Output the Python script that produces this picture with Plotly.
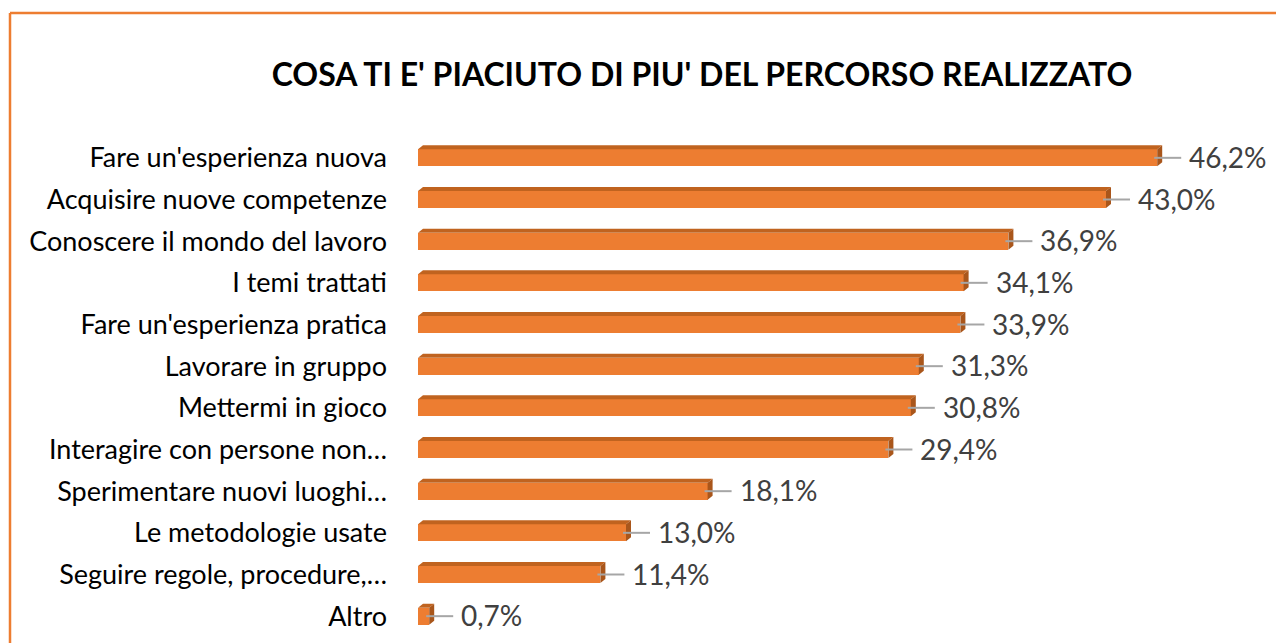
import plotly.graph_objects as go

categories = [
    "Fare un'esperienza nuova",
    "Acquisire nuove competenze",
    "Conoscere il mondo del lavoro",
    "I temi trattati",
    "Fare un'esperienza pratica",
    "Lavorare in gruppo",
    "Mettermi in gioco",
    "Interagire con persone non…",
    "Sperimentare nuovi luoghi…",
    "Le metodologie usate",
    "Seguire regole, procedure,…",
    "Altro",
]
values = [46.2, 43.0, 36.9, 34.1, 33.9, 31.3, 30.8, 29.4, 18.1, 13.0, 11.4, 0.7]
value_labels = ["46,2%", "43,0%", "36,9%", "34,1%", "33,9%", "31,3%", "30,8%",
                "29,4%", "18,1%", "13,0%", "11,4%", "0,7%"]

OFF = 8  # page body margin
W, H = 1284 - OFF, 643 - OFF
ML, MR, MT, MB = 418 - OFF, 18, 137 - OFF, 14 - OFF
XMAX = 53.0
plot_w = W - ML - MR
plot_h = H - MT - MB
n = len(categories)
px_per_x = plot_w / XMAX
px_per_y = plot_h / n

FRONT = "#ED7D31"
TOP = "#C0631F"
SIDE = "#A9561B"

bar_h = 17 / px_per_y
dx = 5 / px_per_x
dy = 4 / px_per_y

ys = list(range(n))

fig = go.Figure()

fig.add_trace(go.Bar(
    x=values, y=ys, orientation="h", width=bar_h,
    marker=dict(color=FRONT, line=dict(width=0)),
    hoverinfo="skip", showlegend=False,
))

for i, v in enumerate(values):
    yt = i - bar_h / 2
    yb = i + bar_h / 2
    fig.add_trace(go.Scatter(
        x=[0, dx, v + dx, v, 0], y=[yt, yt - dy, yt - dy, yt, yt],
        fill="toself", fillcolor=TOP, mode="lines", line=dict(width=0),
        hoverinfo="skip", showlegend=False,
    ))
    fig.add_trace(go.Scatter(
        x=[v, v + dx, v + dx, v, v], y=[yt, yt - dy, yb - dy, yb, yt],
        fill="toself", fillcolor=SIDE, mode="lines", line=dict(width=0),
        hoverinfo="skip", showlegend=False,
    ))

shapes = []
annotations = []
for i, (v, lab) in enumerate(zip(values, value_labels)):
    shapes.append(dict(
        type="line", xref="x", yref="y", xsizemode="pixel", xanchor=v,
        x0=-3, x1=24, y0=i, y1=i,
        line=dict(color="#A6A6A6", width=2), layer="above",
    ))
    annotations.append(dict(
        x=v, y=i, xref="x", yref="y", text=lab, showarrow=False,
        xanchor="left", yanchor="middle", xshift=30, yshift=1,
        font=dict(family="Lato, sans-serif", size=28, color="#404040"),
    ))

# outer chart border (orange)
bx = -(ML - (10 - OFF))
by = MT - (13 - OFF)
shapes.append(dict(
    type="line", xref="paper", yref="paper", xsizemode="pixel", ysizemode="pixel",
    xanchor=0, yanchor=1, x0=bx, x1=bx, y0=by, y1=-H,
    line=dict(color=FRONT, width=2.5), layer="below",
))
shapes.append(dict(
    type="line", xref="paper", yref="paper", xsizemode="pixel", ysizemode="pixel",
    xanchor=0, yanchor=1, x0=bx, x1=W, y0=by, y1=by,
    line=dict(color=FRONT, width=2.5), layer="below",
))

fig.update_layout(
    width=W, height=H,
    margin=dict(l=ML, r=MR, t=MT, b=MB, pad=0),
    paper_bgcolor="white", plot_bgcolor="white",
    title=dict(
        text="<b>COSA TI E' PIACIUTO DI PIU' DEL PERCORSO REALIZZATO</b>",
        xref="container", yref="container", x=(702 - OFF) / W, y=1 - (75 - OFF) / H,
        xanchor="center", yanchor="middle",
        font=dict(family="Lato, sans-serif", size=32, color="#000000"),
    ),
    xaxis=dict(range=[0, XMAX], visible=False, fixedrange=True),
    yaxis=dict(
        range=[n - 0.5, -0.5], tickmode="array", tickvals=ys, ticktext=categories,
        showgrid=False, zeroline=False, showline=False, ticks="",
        ticklabelstandoff=30,
        tickfont=dict(family="Lato, sans-serif", size=27, color="#000000"),
    ),
    shapes=shapes,
    annotations=annotations,
    bargap=0,
)

fig.write_html("out.html")
